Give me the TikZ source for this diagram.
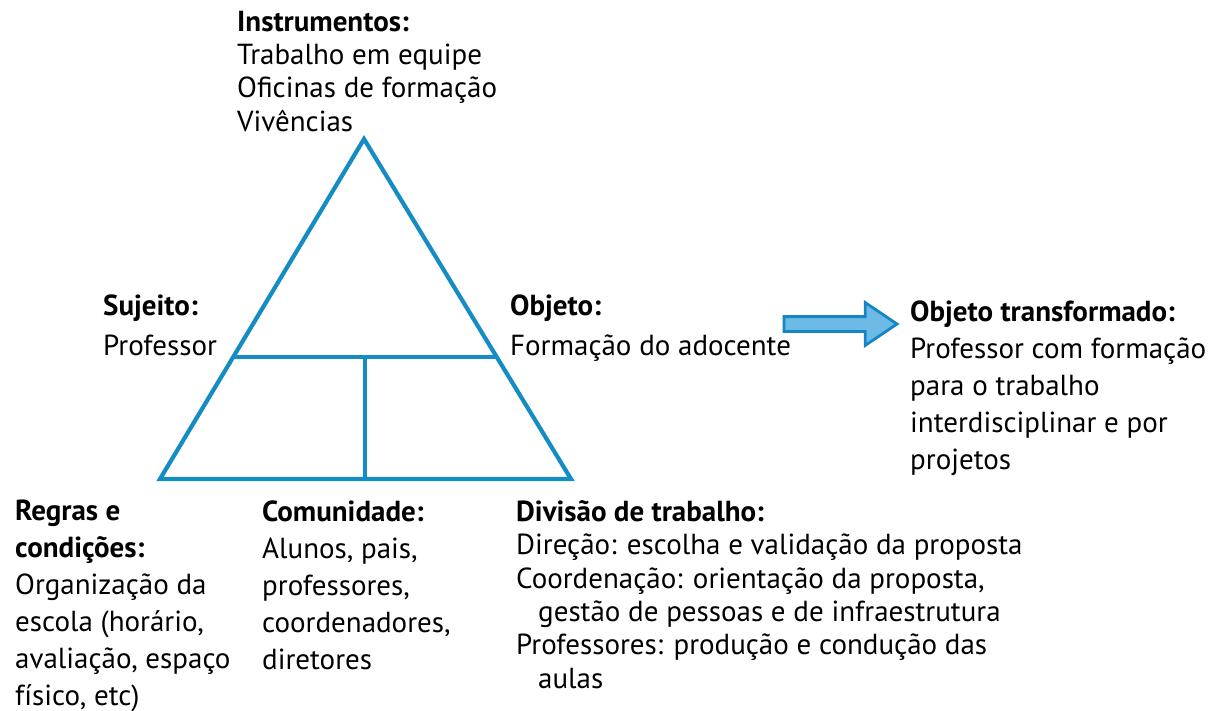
\documentclass[tikz,border=0pt]{standalone}
\usepackage{fontspec}
\setmainfont{PT Sans}
\usetikzlibrary{shapes.arrows,calc}
\definecolor{triblue}{RGB}{22,140,196}
\definecolor{arrfill}{RGB}{110,186,230}
\definecolor{arrline}{RGB}{20,135,195}
\begin{document}
\begin{tikzpicture}[x=1pt,y=-1pt,
  lbl/.style={anchor=base west, inner sep=0pt, align=left},
  tight/.style={font=\fontsize{29}{33.3}\selectfont},
  loose/.style={font=\fontsize{29}{40}\selectfont},
  mid/.style={font=\fontsize{29}{37}\selectfont},
  triline/.style={draw=triblue, line width=4.2pt, line join=miter},
  bigarrow/.style={single arrow, draw=arrline, fill=arrfill, line width=2.8pt,
    minimum height=113pt, inner xsep=0pt, inner ysep=6pt,
    single arrow head extend=14pt, single arrow tip angle=68}]
\path[use as bounding box] (0,0) rectangle (1217,710);

% triangle
\coordinate (apex) at (364,139);
\coordinate (bl) at (160,479);
\coordinate (br) at (571,479);
\coordinate (ml) at ($(bl)!0.3588!(apex)$);
\coordinate (mr) at ($(br)!0.3588!(apex)$);
\coordinate (bm) at (365,479);
\draw[triline] (apex) -- (bl) -- (br) -- cycle;
\draw[triline] (ml) -- (mr);
\draw[triline] (bm) -- (bm |- ml);

% labels (anchored at the baseline of their last line)
\node[lbl,tight] (instr) at (237,131) {\textbf{Instrumentos:}\\Trabalho em equipe\\Oficinas de formação\\Vivências};
\node[lbl,loose] (suj) at (103,355) {\textbf{Sujeito:}\\Professor};
\node[lbl,loose] (obj) at (510,355) {\textbf{Objeto:}\\Formação do adocente};
\node[lbl,mid] (objt) at (910,469) {\textbf{Objeto transformado:}\\Professor com formação\\para o trabalho\\interdisciplinar e por\\projetos};
\node[lbl,mid] (regras) at (15,705) {\textbf{Regras e}\\\textbf{condições:}\\Organização da\\escola (horário,\\avaliação, espaço\\físico, etc)};
\node[lbl,mid] (comun) at (262,669) {\textbf{Comunidade:}\\Alunos, pais,\\professores,\\coordenadores,\\diretores};
\node[lbl,tight] (div) at (516,688) {\textbf{Divisão de trabalho:}\\Direção: escolha e validação da proposta\\Coordenação: orientação da proposta,\\\hspace*{22pt}gestão de pessoas e de infraestrutura\\Professores: produção e condução das\\\hspace*{22pt}aulas};

% arrow
\node[bigarrow] (arr) at (835,324) {};
\end{tikzpicture}
\end{document}
